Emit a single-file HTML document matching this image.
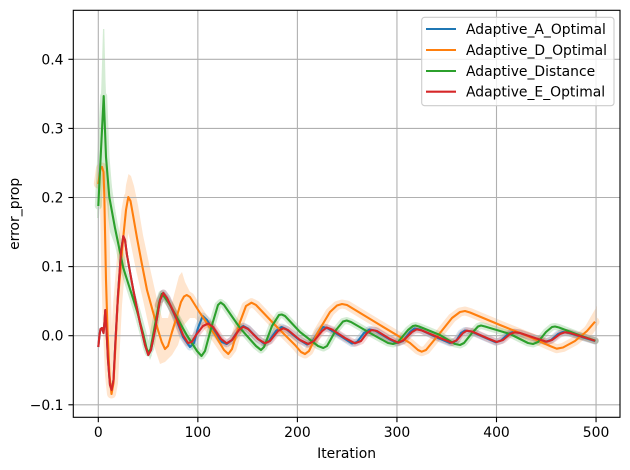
<!DOCTYPE html>
<html><head><meta charset="utf-8"><style>
html,body{margin:0;padding:0;background:#fff;}
svg{display:block;}
text{font-family:"DejaVu Sans","Liberation Sans",sans-serif;font-size:13.9px;fill:#000;}
</style></head><body>
<svg width="630" height="470" viewBox="0 0 630 470" xmlns="http://www.w3.org/2000/svg">
<rect x="0" y="0" width="630" height="470" fill="#fff"/>
<defs><clipPath id="ax"><rect x="73.3" y="10.3" width="546.7" height="407"/></clipPath></defs>
<g clip-path="url(#ax)" fill="none" stroke-linejoin="round" stroke-linecap="round">
<!-- bands -->
<g opacity="0.2">
<polyline stroke="#1f77b4" stroke-width="7" points="160,300 163.3,293 167,298 175,316 183,337 190,347 194,343 198,328 202.7,316 207,320 215,333 222,342 226.7,344 232,340 239,329 243.3,326 248,328.5 258,339 264,343.5 269,341 276,331 281.5,327 286,329 298,339 307,344.5 312,342 319,331 323.3,327 328,328.5 342,337 352,343.5 357,342 364,333 369.5,329.5 375,330.5 389,339 397,343 403,341 410,332 414.5,328.5 420,329.5 438,338 450,343 456,341 461,333 465,330.5 471,331.5 487,338.5 495.5,342.2 501,340.5 508,334 513,332 519,332.8 537,339 545.5,341.8 551,340 558,334 563,332 569,333 585,338 595,341"/>
</g>
<g opacity="0.2" fill="#ff7f0e">
<polyline stroke="#ff7f0e" stroke-width="9" fill="none" points="98.3,184 100.5,168 102,167 103.5,172 104.3,195 105,230 106,280 107.5,330 109.5,375 111.5,394 113.5,383 115.5,345 117.5,305 120,275 123.3,237 126,210 128.3,197 130.5,201 133,215 137,238 141.7,263 147,290 153.3,313 158,330 161.7,342 165,349 168,346 172,332 176.7,317 181,302 184,296.5 186.7,295 190,297 200,313 215,335 224,350 228.3,354 232,349 240,322 246,306 251.5,302.7 256,305 275,325 295,345 301,352 305,354 309,351 318,332 330,312 337,305.5 342,304 347,305 380,325 410,343 418,350 421.7,351.7 426,350 440,333 452,318 460,312 465,311 470,312.5 500,325 530,337 550,346 556.7,348.7 563,347.5 575,341 587,331 595,321.7"/>
<polygon points="119,250 123,215 126,185 128.5,174 131,176 134,186 138,205 143,235 150,268 156,295 162,318 168,318 174,295 179,276 182,272 185,282 190,292 200,305 215,330 225,345 230,360 224,358 215,345 205,330 195,318 190,318 184,325 178,345 172,355 165,362 160,364 156,352 150,332 143,300 136,270 130,240 126,225 122,255 119,270"/>
<polygon points="582,332 590,318 597,306 597,328 590,338"/>
</g>
<g opacity="0.2" fill="#2ca02c">
<polyline stroke="#2ca02c" stroke-width="7" fill="none" points="98.3,206 101,150 103.7,96 105,130 106,157 109.3,197 115,228 123.3,268 136.7,310 143,333 146.5,348 148.3,353 150.5,349 155,325 159,303 161.7,294 164.5,297 170,305 186.7,335 197,351 201.5,356 205,351 212,325 218,305 220.7,302.5 224,305 240,328 256,346 261,350 264,347 272,326 279,315 281.7,314.5 285,316 300,332 318,346 323.3,348 327,346 336,330 343,321.5 346.7,320.5 351,322 370,333 388,343 393,344 398,342 408,330 413,326 415.5,325.5 419,326.5 440,335 455,344 460,345 464,343 472,333 478,326.5 481,325.5 485,326.5 510,334 528,343 533,344 538,342 546,332 552,327 555,326.5 559,327.5 580,335.5 595.5,340.7"/>
<polygon points="97,218 97.5,195 99.3,147 101.5,80 103,29 104.3,29 105.5,80 107,120 108.5,150 111,180 113.5,198 116.5,218 119,235 122,257 127,282 133,302 138,318 144,340 150,360 152,355 146,335 140,312 132,292 124,270 116,248 110,232 108,215 106.7,197 104.5,180 102,175 100,200 99,218"/>
</g>
<g opacity="0.2">
<polyline stroke="#d62728" stroke-width="7" points="158,305 163.3,293 167,298 175,315 183,335 188,343 191.7,342 196,335 203,326 208.3,323.5 213,327 221,339 226.7,343.3 232,340 239,330 243.3,326.7 248,329 258,339 265,343.3 270,341 278,331 283.3,328.3 288,330 300,340 308.3,344 314,341 322,331 326.7,327.5 332,329.5 345,338 355,343.3 361,341 367,333 371.7,330 377,331 390,339 398.3,342.7 404,340 412,332 416.7,329.3 422,330.5 440,338 451.7,342.7 457,340 463,333 466.7,330.7 472,331.5 488,338.5 496.7,342 503,340 510,334 515,332.3 520,333 538,339 546.7,341.7 552,340 560,334 565,332.3 570,333 585,337.5 595,340.7"/>
</g>
</g>
<!-- grid -->
<g stroke="#b0b0b0" stroke-width="1.1">
<line x1="98.3" y1="10.3" x2="98.3" y2="417.3"/>
<line x1="197.85" y1="10.3" x2="197.85" y2="417.3"/>
<line x1="297.4" y1="10.3" x2="297.4" y2="417.3"/>
<line x1="396.95" y1="10.3" x2="396.95" y2="417.3"/>
<line x1="496.5" y1="10.3" x2="496.5" y2="417.3"/>
<line x1="596.05" y1="10.3" x2="596.05" y2="417.3"/>
<line x1="73.3" y1="404.8" x2="620" y2="404.8"/>
<line x1="73.3" y1="335.7" x2="620" y2="335.7"/>
<line x1="73.3" y1="266.6" x2="620" y2="266.6"/>
<line x1="73.3" y1="197.5" x2="620" y2="197.5"/>
<line x1="73.3" y1="128.4" x2="620" y2="128.4"/>
<line x1="73.3" y1="59.3" x2="620" y2="59.3"/>
</g>
<!-- lines -->
<g clip-path="url(#ax)" fill="none" stroke-linejoin="round" stroke-linecap="butt" stroke-width="2.1">
<polyline stroke="#1f77b4" points="98.3,347 99.5,335 100.5,329 102,328 103.5,333 104.5,322 105.3,310 106.5,330 108,360 110,385 111.7,390 113.5,380 115.5,340 118,295 121,252 123.3,236 125,240 127,255 130,272 133.3,290 140,323 145,345 148.3,355 151,350 155,330 160,300 163.3,293 167,298 175,316 183,337 190,347 194,343 198,328 202.7,316 207,320 215,333 222,342 226.7,344 232,340 239,329 243.3,326 248,328.5 258,339 264,343.5 269,341 276,331 281.5,327 286,329 298,339 307,344.5 312,342 319,331 323.3,327 328,328.5 342,337 352,343.5 357,342 364,333 369.5,329.5 375,330.5 389,339 397,343 403,341 410,332 414.5,328.5 420,329.5 438,338 450,343 456,341 461,333 465,330.5 471,331.5 487,338.5 495.5,342.2 501,340.5 508,334 513,332 519,332.8 537,339 545.5,341.8 551,340 558,334 563,332 569,333 585,338 595,341"/>
<polyline stroke="#ff7f0e" points="98.3,184 100.5,168 102,167 103.5,172 104.3,195 105,230 106,280 107.5,330 109.5,375 111.5,394 113.5,383 115.5,345 117.5,305 120,275 123.3,237 126,210 128.3,197 130.5,201 133,215 137,238 141.7,263 147,290 153.3,313 158,330 161.7,342 165,349 168,346 172,332 176.7,317 181,302 184,296.5 186.7,295 190,297 200,313 215,335 224,350 228.3,354 232,349 240,322 246,306 251.5,302.7 256,305 275,325 295,345 301,352 305,354 309,351 318,332 330,312 337,305.5 342,304 347,305 380,325 410,343 418,350 421.7,351.7 426,350 440,333 452,318 460,312 465,311 470,312.5 500,325 530,337 550,346 556.7,348.7 563,347.5 575,341 587,331 595,321.7"/>
<polyline stroke="#2ca02c" points="98.3,206 101,150 103.7,96 105,130 106,157 109.3,197 115,228 123.3,268 136.7,310 143,333 146.5,348 148.3,353 150.5,349 155,325 159,303 161.7,294 164.5,297 170,305 186.7,335 197,351 201.5,356 205,351 212,325 218,305 220.7,302.5 224,305 240,328 256,346 261,350 264,347 272,326 279,315 281.7,314.5 285,316 300,332 318,346 323.3,348 327,346 336,330 343,321.5 346.7,320.5 351,322 370,333 388,343 393,344 398,342 408,330 413,326 415.5,325.5 419,326.5 440,335 455,344 460,345 464,343 472,333 478,326.5 481,325.5 485,326.5 510,334 528,343 533,344 538,342 546,332 552,327 555,326.5 559,327.5 580,335.5 595.5,340.7"/>
<polyline stroke="#d62728" points="98.3,347 99.5,335 100.5,329 102,328 103.5,333 104.5,322 105.3,310 106.5,330 108,360 110,385 111.7,390 113.5,380 115.5,340 118,295 121,252 123.3,236 125,240 127,255 130,272 133.3,290 140,323 145,345 148.3,355 151,350 155,330 160,300 163.3,293 167,298 175,315 183,335 188,343 191.7,342 196,335 203,326 208.3,323.5 213,327 221,339 226.7,343.3 232,340 239,330 243.3,326.7 248,329 258,339 265,343.3 270,341 278,331 283.3,328.3 288,330 300,340 308.3,344 314,341 322,331 326.7,327.5 332,329.5 345,338 355,343.3 361,341 367,333 371.7,330 377,331 390,339 398.3,342.7 404,340 412,332 416.7,329.3 422,330.5 440,338 451.7,342.7 457,340 463,333 466.7,330.7 472,331.5 488,338.5 496.7,342 503,340 510,334 515,332.3 520,333 538,339 546.7,341.7 552,340 560,334 565,332.3 570,333 585,337.5 595,340.7"/>
</g>
<!-- spines -->
<rect x="73.3" y="10.3" width="546.7" height="407" fill="none" stroke="#000" stroke-width="1.1"/>
<!-- ticks -->
<g stroke="#000" stroke-width="1.1">
<line x1="98.3" y1="417.3" x2="98.3" y2="422.2"/>
<line x1="197.85" y1="417.3" x2="197.85" y2="422.2"/>
<line x1="297.4" y1="417.3" x2="297.4" y2="422.2"/>
<line x1="396.95" y1="417.3" x2="396.95" y2="422.2"/>
<line x1="496.5" y1="417.3" x2="496.5" y2="422.2"/>
<line x1="596.05" y1="417.3" x2="596.05" y2="422.2"/>
<line x1="68.4" y1="404.8" x2="73.3" y2="404.8"/>
<line x1="68.4" y1="335.7" x2="73.3" y2="335.7"/>
<line x1="68.4" y1="266.6" x2="73.3" y2="266.6"/>
<line x1="68.4" y1="197.5" x2="73.3" y2="197.5"/>
<line x1="68.4" y1="128.4" x2="73.3" y2="128.4"/>
<line x1="68.4" y1="59.3" x2="73.3" y2="59.3"/>
</g>
<g text-anchor="middle">
<text x="98.3" y="436.8">0</text>
<text x="197.85" y="436.8">100</text>
<text x="297.4" y="436.8">200</text>
<text x="396.95" y="436.8">300</text>
<text x="496.5" y="436.8">400</text>
<text x="596.05" y="436.8">500</text>
<text x="346.6" y="457.8">Iteration</text>
</g>
<g text-anchor="end">
<text x="63.5" y="409.8">−0.1</text>
<text x="63.5" y="340.7">0.0</text>
<text x="63.5" y="271.6">0.1</text>
<text x="63.5" y="202.5">0.2</text>
<text x="63.5" y="133.4">0.3</text>
<text x="63.5" y="64.3">0.4</text>
</g>
<text transform="translate(19.2,213.8) rotate(-90)" text-anchor="middle">error_prop</text>
<!-- legend -->
<rect x="421.7" y="17.3" width="192.3" height="88.4" rx="3" ry="3" fill="#fff" fill-opacity="0.8" stroke="#cccccc" stroke-width="1.1"/>
<g stroke-width="2.1">
<line x1="426" y1="29" x2="456" y2="29" stroke="#1f77b4"/>
<line x1="426" y1="50" x2="456" y2="50" stroke="#ff7f0e"/>
<line x1="426" y1="71" x2="456" y2="71" stroke="#2ca02c"/>
<line x1="426" y1="91.7" x2="456" y2="91.7" stroke="#d62728"/>
</g>
<text x="466" y="34">Adaptive_A_Optimal</text>
<text x="466" y="55">Adaptive_D_Optimal</text>
<text x="466" y="76">Adaptive_Distance</text>
<text x="466" y="96.7">Adaptive_E_Optimal</text>
</svg>
</body></html>
